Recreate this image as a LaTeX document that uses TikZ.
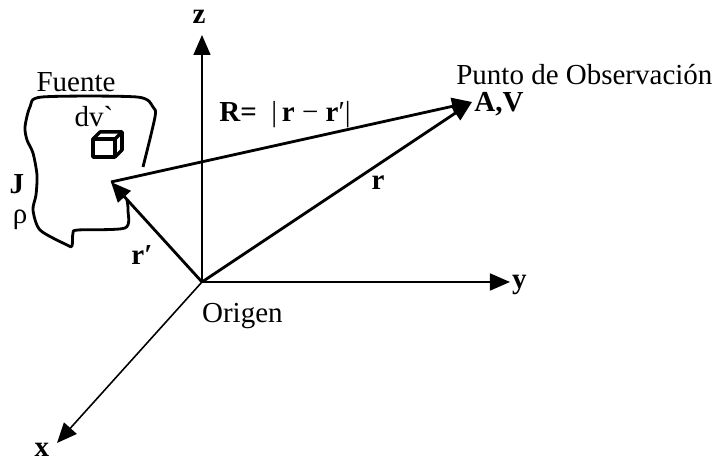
\documentclass[tikz,border=0pt]{standalone}
\usepackage{fontspec}
\setmainfont{Liberation Serif}
\usepackage{tikz}
\usetikzlibrary{arrows.meta}

\tikzset{
  axis/.style={line width=0.9pt, -{Triangle[length=0.4cm, width=0.34cm]}},
  vec/.style={line width=1.6pt, -{Triangle[length=0.4cm, width=0.34cm]}},
  lbl/.style={font=\fontsize{16.5}{19}\selectfont, inner sep=1pt},
  blbl/.style={lbl, font=\fontsize{16.5}{19}\selectfont\bfseries},
}

\begin{document}
\begin{tikzpicture}
  \useasboundingbox (-4.04,-3.58) rectangle (10.24,5.64);

  % Points
  \coordinate (O) at (0,0);
  \coordinate (zt) at (0,4.94);
  \coordinate (yt) at (6.16,0);
  \coordinate (xt) at (-2.9,-3.22);
  \coordinate (P) at (5.4,3.6);
  \coordinate (S) at (-1.82,2.0);

  % Axes
  \draw[axis] (O) -- (zt);
  \draw[axis] (O) -- (yt);
  \draw[axis] (O) -- (xt);
  \node[blbl] (zlab) at (-0.06,5.3) {z};
  \node[blbl, anchor=west] (ylab) at (6.16,-0.05) {y};
  \node[blbl, inner sep=0pt] (xlab) at (-3.2,-3.36) {x};
  \node[lbl, anchor=west] (orig) at (-0.04,-0.68) {Origen};

  % Source region
  \draw[line width=1.6pt, line join=round] plot[smooth, tension=0.45] coordinates {
    (-1.18,2.3) (-0.94,3.3) (-0.98,3.5) (-1.3,3.7) (-3.2,3.7) (-3.44,3.5)
    (-3.54,3.1) (-3.5,2.84) (-3.38,2.58) (-3.3,2.14) (-3.32,1.74) (-3.38,1.44)
    (-3.24,1.04) (-2.7,0.74) (-2.6,0.72) (-2.58,0.98) (-2.48,1.04)
    (-1.54,1.08) (-1.48,1.44) (-1.5,1.64)};
  \node[lbl] (src) at (-2.52,4.0) {Fuente};
  \node[lbl] (dv) at (-2.16,3.3) {dv\textasciigrave};
  \node[blbl] (Jlab) at (-3.7,1.96) {J};
  \node[lbl] (rho) at (-3.64,1.24) {ρ};

  % Volume element
  \draw[line width=2pt, line join=round] (-2.18,2.5) rectangle (-1.74,2.86);
  \draw[line width=2pt, line join=round] (-2.18,2.86) -- (-2.04,3.0) -- (-1.6,3.0)
    -- (-1.6,2.64) -- (-1.74,2.5);
  \draw[line width=2pt] (-1.74,2.86) -- (-1.6,3.0);

  % Vectors
  \draw[vec] (O) -- (S);
  \draw[vec] (S) -- (P);
  \draw[vec] (O) -- (P);
  \node[blbl] (rlab) at (3.52,1.98) {r};
  \node[blbl] (rplab) at (-1.2,0.54) {r′};
  \node[lbl] (Rlab) at (1.66,3.34) {\textbf{R=}\ \ |\,\textbf{r} − \textbf{r}′|};

  % Observation point
  \node[blbl, anchor=west, inner sep=0pt] (AV) at (5.44,3.55) {A,V};
  \node[lbl, anchor=west, inner sep=0pt] (obs) at (5.08,4.14) {Punto de Observación};
\end{tikzpicture}
\end{document}
